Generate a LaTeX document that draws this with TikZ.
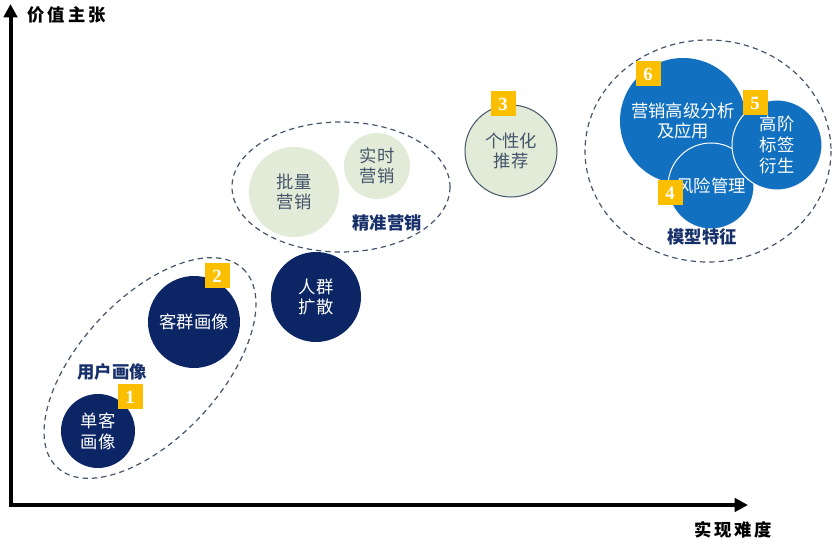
\documentclass[tikz,border=0pt]{standalone}
\usepackage{fontspec}
\newfontfamily\cjk{Noto Sans CJK SC}
\newfontfamily\digits{Liberation Serif}
\usepackage{tikz}
\usetikzlibrary{arrows.meta, shapes.geometric}
\definecolor{navy}{HTML}{0B2565}
\definecolor{midblue}{HTML}{1270C0}
\definecolor{palegreen}{HTML}{E2EBD8}
\definecolor{slate}{HTML}{44546A}
\definecolor{gold}{HTML}{FCBF00}
\definecolor{labelnavy}{HTML}{17306A}
\tikzset{
	disc/.style={circle, inner sep=0pt, align=center, font=\cjk\fontsize{13}{15.5}\selectfont},
	darkdisc/.style={disc, fill=navy, text=white},
	greendisc/.style={disc, fill=palegreen, text=slate},
	bluedisc/.style={disc, fill=midblue, text=white},
	badge/.style={fill=gold, text=white, minimum size=18.75pt, inner sep=0pt, font=\digits\bfseries\fontsize{14}{14}\selectfont},
	grouping/.style={draw=slate, line width=0.9pt, dash pattern=on 4pt off 3pt},
	grouplabel/.style={text=labelnavy, font=\cjk\bfseries\fontsize{13}{14}\selectfont},
	axisline/.style={line width=3pt, {Triangle[length=10pt,width=10pt]}-{Triangle[length=10pt,width=10pt]}},
	axislabel/.style={font=\cjk\bfseries\fontsize{13}{14}\selectfont}
}
\begin{document}
\begin{tikzpicture}[x=0.75pt,y=-0.75pt]
	\useasboundingbox (0,0) rectangle (836,548);
	% axes
	\coordinate (ytip) at (10.5,4);
	\coordinate (origin) at (10.5,505);
	\coordinate (xtip) at (748,505);
	\draw[axisline] (ytip) -- (origin) -- (xtip);
	\node[axislabel, anchor=west] (yname) at (23,15) {价\,值\,主\,张};
	\node[axislabel] (xname) at (733,530) {实\,现\,难\,度};
	% dashed groups
	\draw[grouping, rotate around={47:(150,368)}] (150,368) ellipse [x radius=136, y radius=70];
	\draw[grouping] (341,187) ellipse [x radius=109, y radius=65];
	\draw[grouping] (708,151) ellipse [x radius=123, y radius=111];
	% user portrait
	\node[darkdisc, minimum size=55.5pt] (single) at (98,431) {单客\\画像};
	\node[darkdisc, minimum size=69pt] (group) at (194,322) {客群画像};
	\node[grouplabel] (userlabel) at (112,372) {用户画像};
	% precision marketing
	\node[darkdisc, minimum size=67.5pt] (spread) at (316,297) {人群\\扩散};
	\node[greendisc, minimum size=67.5pt] (batch) at (294,192) {批量\\营销};
	\node[greendisc, minimum size=49.5pt] (realtime) at (377,166) {实时\\营销};
	\node[grouplabel] (marketlabel) at (387,223) {精准营销};
	\node[greendisc, draw=slate, line width=0.75pt, minimum size=69pt] (personal) at (511,151) {个性化\\推荐};
	% model features
	\node[bluedisc, minimum size=94.5pt] (advanced) at (683,121) {营销高级分析\\及应用};
	\node[bluedisc, draw=white, line width=0.75pt, minimum size=64.5pt] (risk) at (711,186) {风险管理};
	\node[bluedisc, draw=white, line width=0.75pt, minimum size=67.5pt] (tags) at (777,145) {高阶\\标签\\衍生};
	\node[grouplabel] (modellabel) at (702,237) {模型特征};
	% numbered badges
	\node[badge] (b1) at (130,397) {1};
	\node[badge] (b2) at (217,276) {2};
	\node[badge] (b3) at (503,104) {3};
	\node[badge] (b4) at (670,193) {4};
	\node[badge] (b5) at (755,103) {5};
	\node[badge] (b6) at (648,74) {6};
\end{tikzpicture}
\end{document}
